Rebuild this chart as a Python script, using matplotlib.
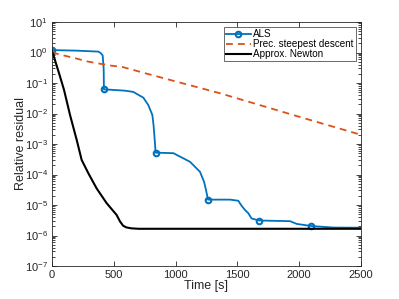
import matplotlib
matplotlib.use("Agg")
import matplotlib.pyplot as plt
from matplotlib.ticker import LogLocator, NullFormatter

plt.rcParams['font.family'] = ['Liberation Sans', 'DejaVu Sans']
plt.rcParams['mathtext.fontset'] = 'custom'
plt.rcParams['mathtext.rm'] = 'Liberation Sans'
plt.rcParams['mathtext.it'] = 'Liberation Sans:italic'

# ALS
als_t = [0, 200, 375, 395, 410, 418, 420, 591, 658, 739, 779, 812, 822, 832, 838,
         982, 1062, 1117, 1197, 1230, 1246, 1262, 1440, 1507, 1535, 1561, 1588, 1615,
         1678, 1926, 1980, 2096, 2277, 2500]
als_r = [1.2, 1.15, 1.07, 0.95, 0.8, 0.3, 0.062, 0.056, 0.051, 0.033, 0.019, 0.0089,
         0.004, 0.0012, 5.2e-4, 5.0e-4, 3.4e-4, 2.6e-4, 1.23e-4, 5.8e-5, 3.1e-5, 1.5e-5,
         1.5e-5, 1.38e-5, 9.3e-6, 6.9e-6, 5.4e-6, 3.6e-6, 3.1e-6, 2.95e-6, 2.4e-6,
         2.05e-6, 1.82e-6, 1.8e-6]
als_markers = [0, 6, 14, 21, 28, 31]

# Preconditioned steepest descent
psd_t = [0, 100, 200, 294, 400, 480, 564, 800, 1360, 2000, 2500]
psd_r = [1.0, 0.79, 0.63, 0.50, 0.42, 0.37, 0.34, 0.186, 0.046, 7.8e-3, 2.0e-3]

# Approx. Newton
newt_t = [0, 60, 97, 146, 200, 240, 294, 361, 442, 523, 550, 575, 600, 640, 700, 2500]
newt_r = [1.15, 0.19, 0.06, 8.9e-3, 1.35e-3, 3.0e-4, 1.1e-4, 3.5e-5, 1.15e-5, 4.7e-6,
          2.9e-6, 2.1e-6, 1.85e-6, 1.72e-6, 1.66e-6, 1.66e-6]

labels = ['ALS', 'Prec. steepest descent', 'Approx. Newton']
xticks = [0, 500, 1000, 1500, 2000, 2500]

fig = plt.figure(figsize=(3.99, 2.99), dpi=100)
ax = fig.add_axes([52/399, 33/299, 309/399, 244/299])

gray = '#262626'
ax.plot(als_t, als_r, color='#0072BD', lw=1.3, marker='o', ms=4, mfc='none', mew=1.5,
        markevery=als_markers, label=labels[0])
ax.plot(psd_t, psd_r, color='#D95319', lw=1.3, linestyle=(0, (3.8, 2.8)), label=labels[1])
ax.plot(newt_t, newt_r, color='black', lw=1.5, label=labels[2])

ax.set_yscale('log')
ax.set_xlim(0, 2500)
ax.set_ylim(1e-7, 1e1)
ax.set_xticks(xticks)
ax.yaxis.set_major_locator(LogLocator(base=10, numticks=20))
ax.yaxis.set_minor_locator(LogLocator(base=10, subs=range(2, 10), numticks=20))
ax.yaxis.set_minor_formatter(NullFormatter())
ax.tick_params(which='both', direction='in', top=True, right=True, colors=gray,
               labelsize=8, width=0.6, pad=3)
ax.tick_params(which='major', length=3.5)
ax.tick_params(which='minor', length=2)
for s in ax.spines.values():
    s.set_color(gray)
    s.set_linewidth(0.6)

ax.set_xlabel('Time [s]', fontsize=9, color=gray, labelpad=0)
ax.set_ylabel('Relative residual', fontsize=9, color=gray, labelpad=-1.5)

leg = ax.legend(loc='upper right', fontsize=7.1, frameon=True, fancybox=False,
                edgecolor=gray, handlelength=2.6, handletextpad=0.2,
                borderpad=0.2, labelspacing=0.0, borderaxespad=0.55)
leg.get_frame().set_linewidth(0.6)

fig.savefig('out.png', dpi=100)
